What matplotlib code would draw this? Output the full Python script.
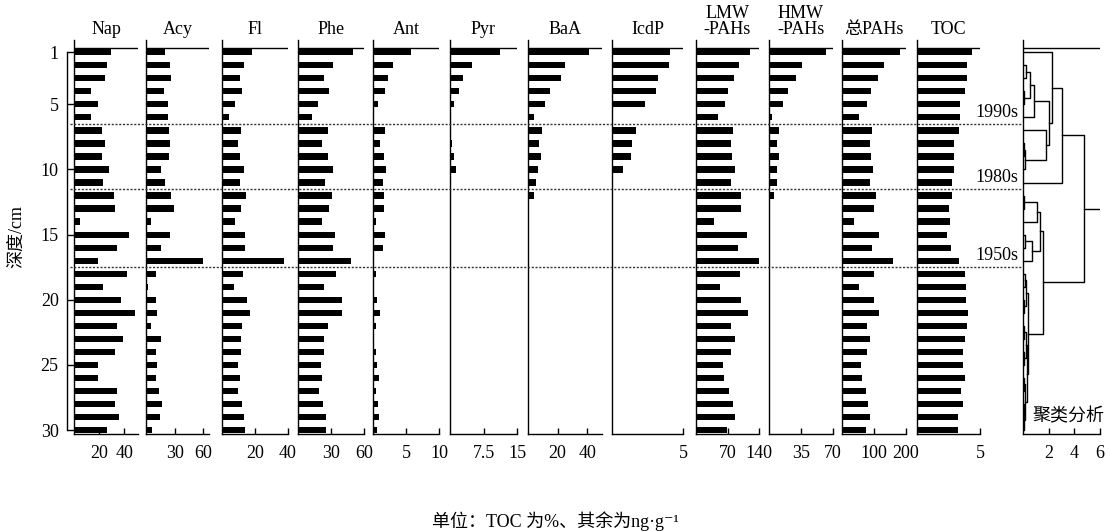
import matplotlib
matplotlib.use('Agg')

import matplotlib.pyplot as plt
import matplotlib.transforms as mtransforms
from matplotlib.lines import Line2D
import numpy as np

plt.rcParams['font.family'] = ['Liberation Serif', 'Noto Sans CJK SC', 'DejaVu Sans']

depth = np.arange(1, 31)

# values, depth 1..30 cm (ng/g, TOC in %)
nap = [29.6, 26.1, 25.0, 13.3, 18.9, 13.9, 22.4, 24.8, 22.4, 27.5,
       22.9, 32.0, 33.0, 4.8, 43.7, 34.1, 18.9, 42.4, 23.5, 37.3,
       48.8, 33.9, 39.2, 32.5, 19.2, 19.5, 34.1, 32.5, 35.5, 26.1]
acy = [20.0, 24.8, 25.9, 19.3, 22.8, 22.8, 24.1, 24.8, 23.8, 15.2,
       20.0, 25.9, 29.3, 5.5, 24.8, 15.2, 60.0, 10.7, 2.4, 10.0,
       11.7, 5.5, 15.2, 10.7, 11.7, 10.0, 13.8, 16.6, 14.5, 5.9]
fl = [18.2, 13.3, 10.7, 11.9, 7.7, 4.4, 11.5, 9.7, 11.1, 13.3,
      10.7, 14.5, 11.5, 7.7, 14.1, 13.7, 37.4, 12.7, 7.1, 15.2,
      17.2, 11.9, 11.5, 11.5, 9.5, 10.7, 9.9, 11.9, 13.3, 14.1]
phe = [50.0, 31.5, 24.0, 28.5, 18.6, 12.6, 27.0, 21.9, 27.0, 32.1,
       24.9, 30.9, 28.2, 21.6, 33.6, 32.1, 48.3, 34.8, 23.4, 39.6,
       40.2, 27.6, 23.7, 23.7, 21.0, 22.2, 19.5, 22.5, 25.5, 25.2]
ant = [5.7, 3.0, 2.2, 1.8, 0.7, 0.0, 1.8, 1.1, 1.6, 2.0,
       1.45, 1.6, 1.6, 0.5, 1.8, 1.45, 0.0, 0.5, 0.0, 0.55,
       1.1, 0.4, 0.2, 0.4, 0.55, 0.9, 0.4, 0.7, 0.9, 0.55]
pyr = [11.3, 5.0, 3.0, 2.0, 1.0, 0.0, 0.0, 0.5, 0.9, 1.3,
       0, 0, 0, 0, 0, 0, 0, 0, 0, 0,
       0, 0, 0, 0, 0, 0, 0, 0, 0, 0]
baa = [41.0, 25.0, 22.0, 15.1, 11.7, 3.8, 9.5, 7.7, 9.0, 7.0,
       5.2, 3.8, 0, 0, 0, 0, 0, 0, 0, 0,
       0, 0, 0, 0, 0, 0, 0, 0, 0, 0]
icdp = [4.09, 4.04, 3.27, 3.08, 2.29, 0.0, 1.7, 1.42, 1.35, 0.74,
        0, 0, 0, 0, 0, 0, 0, 0, 0, 0,
        0, 0, 0, 0, 0, 0, 0, 0, 0, 0]
lmw = [119.5, 95.3, 84.3, 71.8, 64.5, 49.9, 82.8, 77.7, 80.6, 87.2,
       77.0, 100.4, 99.0, 38.9, 113.6, 93.8, 139.3, 98.2, 54.3, 99.7,
       116.6, 77.0, 87.2, 77.0, 60.1, 61.6, 74.0, 81.4, 87.2, 69.6]
hmw = [62.7, 36.3, 29.4, 20.3, 14.9, 3.3, 10.5, 9.1, 11.2, 9.1,
       8.3, 5.8, 1.2, 0.0, 1.0, 0.0, 0.0, 0.6, 0, 0,
       0, 0, 0, 0, 0, 0, 0, 0, 0, 0]
total = [181, 131, 113, 92, 78.6, 53.5, 94.3, 88, 92, 95.4,
         87, 106, 99.6, 37.8, 115, 93, 158, 99.6, 54.6, 100.6,
         117, 77.6, 87, 76.6, 58.7, 61.8, 74.4, 80.7, 87, 75.5]
toc = [4.37, 4.0, 4.0, 3.82, 3.42, 3.42, 3.34, 2.97, 2.97, 2.97,
       2.79, 2.79, 2.53, 2.6, 2.42, 2.68, 3.34, 3.82, 3.89, 3.89,
       4.08, 4.0, 3.82, 3.63, 3.63, 3.82, 3.53, 3.63, 3.26, 3.26]

names = ['Nap', 'Acy', 'Fl', 'Phe', 'Ant', 'Pyr', 'BaA', 'IcdP',
         'LMW\n-PAHs', 'HMW\n-PAHs', '总PAHs', 'TOC']
series = [nap, acy, fl, phe, ant, pyr, baa, icdp, lmw, hmw, total, toc]
xmax = [51, 66, 40, 60, 10, 15, 50, 5, 140, 70, 200, 5]
xticks = [[20, 40], [30, 60], [20, 40], [30, 60], [5, 10], [7.5, 15],
          [20, 40], [5], [70, 140], [35, 70], [100, 200], [5]]

# cluster analysis: (child, child, distance); ints are depths, 'cN' = N-th merge
merges = [
    (2, 3, 0.26),          # c0
    (4, 5, 0.08),          # c1
    ('c0', 'c1', 0.57),    # c2
    ('c2', 6, 0.88),       # c3
    (8, 9, 0.08),          # c4
    ('c4', 10, 0.14),      # c5
    (7, 'c5', 1.82),       # c6
    ('c3', 'c6', 2.03),    # c7
    (1, 'c7', 2.27),       # c8
    ('c8', 11, 3.05),      # c9
    (12, 13, 0.10),        # c10
    ('c10', 14, 1.12),     # c11
    (15, 16, 0.15),        # c12
    ('c12', 17, 0.70),     # c13
    ('c11', 'c13', 1.30),  # c14
    (18, 19, 0.15),        # c15
    (20, 21, 0.10),        # c16
    ('c15', 'c16', 0.25),  # c17
    (22, 23, 0.10),        # c18
    (24, 25, 0.08),        # c19
    ('c18', 'c19', 0.20),  # c20
    (26, 27, 0.05),        # c21
    (28, 29, 0.05),        # c22
    ('c22', 30, 0.10),     # c23
    ('c21', 'c23', 0.15),  # c24
    ('c20', 'c24', 0.30),  # c25
    ('c17', 'c25', 0.39),  # c26
    ('c14', 'c26', 1.57),  # c27
    ('c9', 'c27', 4.75),   # c28
]
dend_ticks = [2, 4, 6]

eras = ['1990s', '1980s', '1950s']
era_depth = [6.5, 11.5, 17.5]

# layout in pixels
W, H = 1110, 531
top_px, bot_px = 40, 434
y_lim = (30.3, 0.064)
lefts = [74, 146, 222, 298, 373, 450, 528, 612, 696, 769, 842, 917]
rights = [138, 209, 288, 364, 439, 517, 602, 683, 759, 833, 906, 980]
dend_lr = (1023, 1100)


def fmt(t):
    return str(int(t)) if float(t).is_integer() else str(t)


fig = plt.figure(figsize=(W / 100, H / 100), dpi=100)


def make_axes(l, r):
    ax = fig.add_axes([l / W, 1 - bot_px / H, (r - l) / W, (bot_px - top_px) / H])
    ax.set_ylim(*y_lim)
    for s in ['top', 'right']:
        ax.spines[s].set_visible(False)
    for s in ['left', 'bottom']:
        ax.spines[s].set_linewidth(1.0)
    ax.set_yticks([])
    ax.tick_params(axis='x', direction='in', length=4.5, width=1,
                   labelsize=13, pad=8)
    ax.axhline(0.68, color='black', lw=1)
    return ax


axes = []
for name, vals, xm, tk, l, r in zip(names, series, xmax, xticks, lefts, rights):
    ax = make_axes(l, r)
    ax.barh(depth, vals, height=0.48, color='black')
    ax.set_xlim(0, xm)
    ax.set_xticks(tk)
    ax.set_xticklabels([fmt(t) for t in tk])
    fig.text((l + r) / 2 / W, 1 - 38 / H, name, ha='center', va='bottom',
             fontsize=13, linespacing=0.95)
    axes.append(ax)

# dendrogram
axd = make_axes(*dend_lr)
axd.set_xlim(0, 6)
axd.set_xticks(dend_ticks)
axd.set_xticklabels([fmt(t) for t in dend_ticks])
pos, hgt = {}, {}


def node(c):
    if isinstance(c, str):
        return pos[c], hgt[c]
    return float(c), 0.0


for i, (a, b, d) in enumerate(merges):
    ya, ha = node(a)
    yb, hb = node(b)
    axd.plot([ha, d, d, hb], [ya, ya, yb, yb], color='black', lw=1)
    pos['c%d' % i] = (ya + yb) / 2
    hgt['c%d' % i] = d
root = 'c%d' % (len(merges) - 1)
axd.plot([hgt[root], 6], [pos[root], pos[root]], color='black', lw=1)
axd.text(0.75, 29.0, '聚类分析', fontsize=13, ha='left', va='center')

# depth axis
axy = fig.add_axes([67 / W, 1 - bot_px / H, 7 / W, (bot_px - top_px) / H])
axy.set_ylim(*y_lim)
for s in ['top', 'right', 'bottom']:
    axy.spines[s].set_visible(False)
axy.spines['left'].set_bounds(1, 30)
axy.spines['left'].set_linewidth(1.0)
axy.set_xticks([])
axy.set_yticks([1, 5, 10, 15, 20, 25, 30])
axy.tick_params(axis='y', direction='in', length=5, width=1, labelsize=13, pad=6)
axy.patch.set_visible(False)
fig.text(17 / W, 1 - 237 / H, '深度/cm', rotation=90, ha='center', va='center',
         fontsize=13)

# era lines and labels
trans = mtransforms.blended_transform_factory(fig.transFigure, axes[0].transData)
for era, yd in zip(eras, era_depth):
    fig.add_artist(Line2D([70 / W, dend_lr[0] / W], [yd, yd], transform=trans,
                          color='#333333', lw=1, linestyle=(0, (1.5, 1.2))))
    fig.text(1018 / W, yd - 0.22, era, transform=trans, ha='right',
             va='bottom', fontsize=13)

fig.text(0.5, 1 - 521 / H, '单位：TOC 为%、其余为ng·g⁻¹', ha='center',
         va='center', fontsize=13)

fig.savefig('out.png', dpi=100)
